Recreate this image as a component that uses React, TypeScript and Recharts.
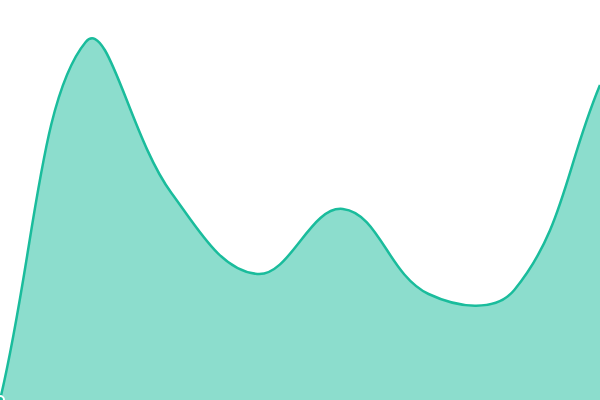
import { AreaChart, Area, XAxis, YAxis } from 'recharts';

const labels = ['A', 'B', 'C', 'D', 'E', 'F', 'G', 'H'];
const values = [0, 358, 207, 126, 191, 106, 110, 315];

const data = labels.map((label, i) => ({ label, value: values[i] }));

const TENSION = 0.4;

// distance-weighted bezier spline (tension 0.4), close to the reference's smoothing
function SplineCurve(this: any, context: any) {
  this._context = context;
}

SplineCurve.prototype = {
  areaStart() { this._line = 0; },
  areaEnd() { this._line = NaN; },
  lineStart() { this._pts = []; },
  point(x: number, y: number) { this._pts.push([+x, +y]); },
  lineEnd() {
    const p: number[][] = this._pts;
    const n = p.length;
    const c = this._context;
    if (n) {
      this._line ? c.lineTo(p[0][0], p[0][1]) : c.moveTo(p[0][0], p[0][1]);
      if (n === 2) {
        c.lineTo(p[1][0], p[1][1]);
      } else if (n > 2) {
        const prevCp: number[][] = [];
        const nextCp: number[][] = [];
        for (let i = 0; i < n; i++) {
          const a = p[i - 1] || p[i];
          const b = p[i];
          const d = p[i + 1] || p[i];
          const d01 = Math.hypot(b[0] - a[0], b[1] - a[1]);
          const d12 = Math.hypot(d[0] - b[0], d[1] - b[1]);
          let s01 = d01 / (d01 + d12);
          let s12 = d12 / (d01 + d12);
          if (isNaN(s01)) s01 = 0;
          if (isNaN(s12)) s12 = 0;
          const fa = TENSION * s01;
          const fb = TENSION * s12;
          prevCp.push([b[0] - fa * (d[0] - a[0]), b[1] - fa * (d[1] - a[1])]);
          nextCp.push([b[0] + fb * (d[0] - a[0]), b[1] + fb * (d[1] - a[1])]);
        }
        for (let i = 0; i < n - 1; i++) {
          c.bezierCurveTo(nextCp[i][0], nextCp[i][1], prevCp[i + 1][0], prevCp[i + 1][1], p[i + 1][0], p[i + 1][1]);
        }
      }
    }
    if (this._line || (this._line !== 0 && n === 1)) c.closePath();
    this._line = 1 - this._line;
  },
};

const spline = (context: any) => new (SplineCurve as any)(context);

export default function App() {
  return (
    <div style={{ position: 'absolute', left: 0, top: 0 }}>
      <AreaChart width={600} height={400} data={data} margin={{ top: 0, right: 0, bottom: 0, left: 0 }}>
        <XAxis dataKey="label" hide />
        <YAxis hide domain={[0, 400]} />
        <Area
          type={spline as any}
          dataKey="value"
          stroke="#1abc9c"
          strokeWidth={2.5}
          fill="#1abc9c"
          fillOpacity={0.5}
          isAnimationActive={false}
        />
      </AreaChart>
    </div>
  );
}
